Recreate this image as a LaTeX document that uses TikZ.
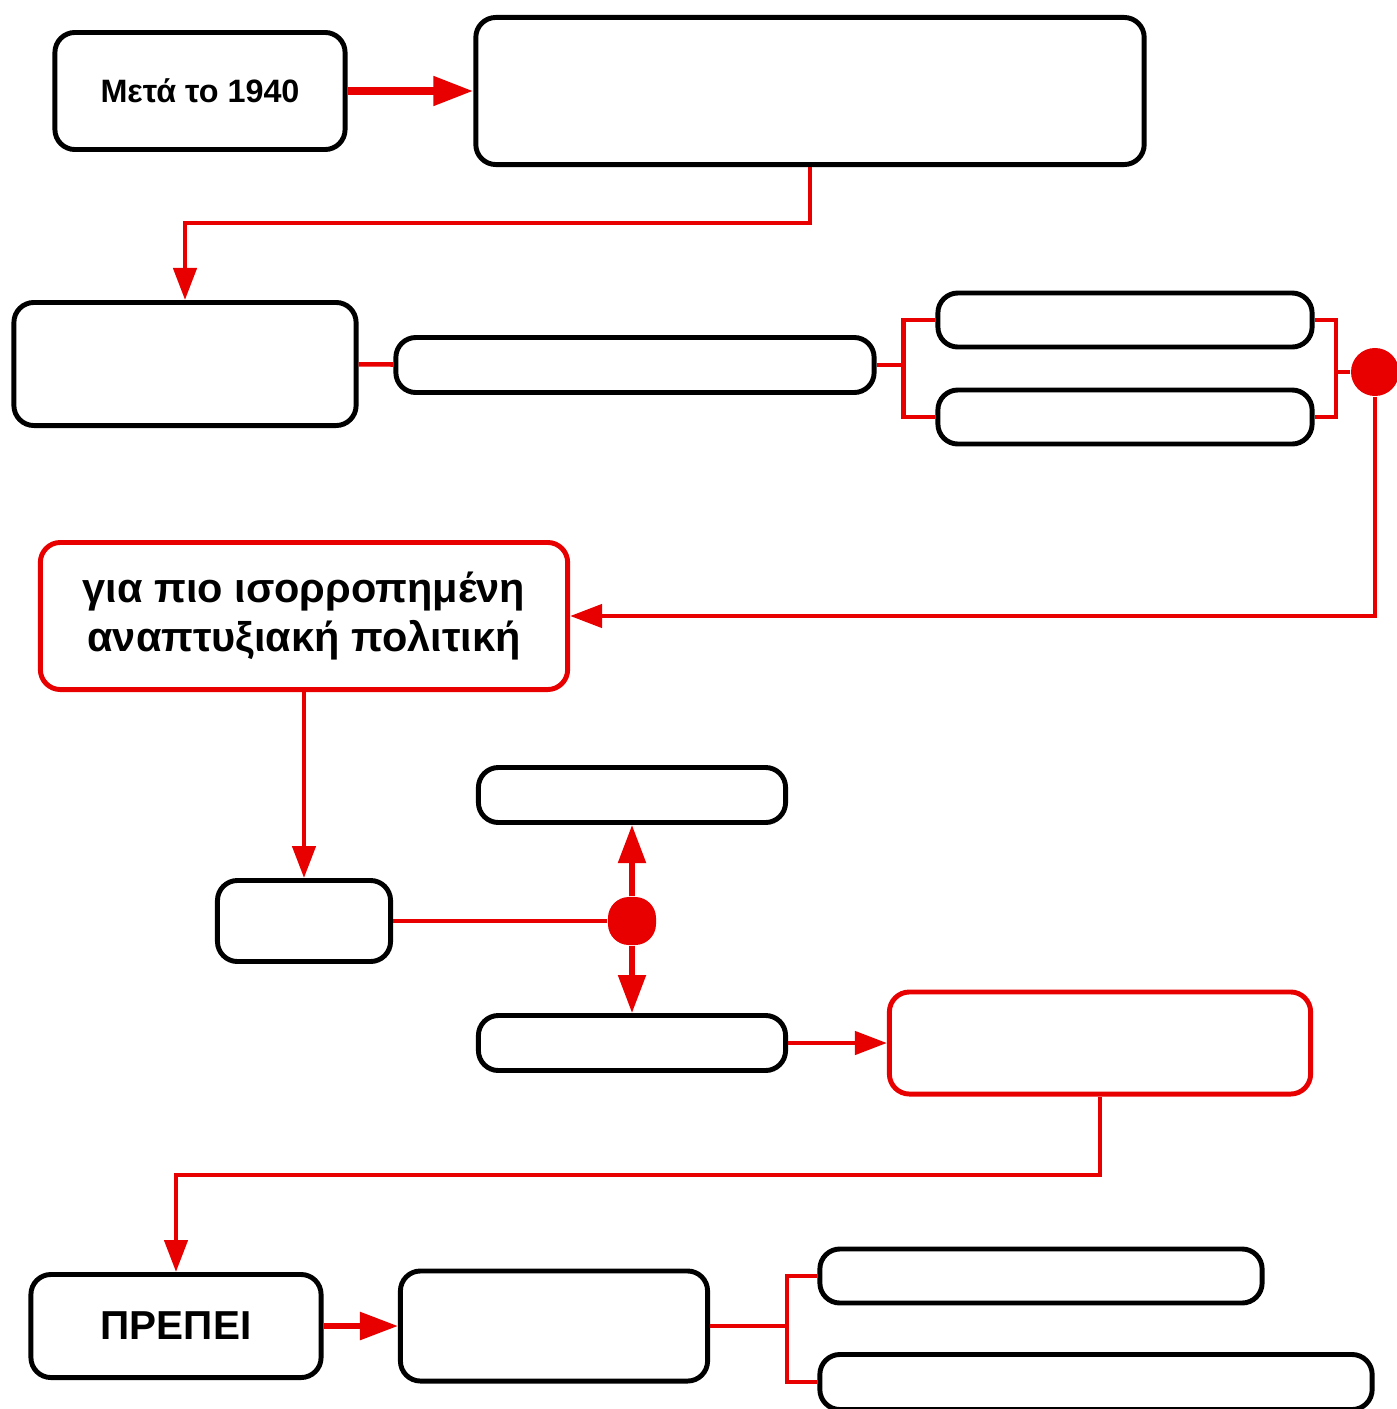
\documentclass[tikz,border=0pt]{standalone}
\usepackage{fontspec}
\setmainfont{Liberation Sans}
\usetikzlibrary{arrows.meta}
\definecolor{myred}{RGB}{232,0,0}
\begin{document}
\begin{tikzpicture}[x=0.01cm,y=-0.01cm,font=\bfseries,
	box/.style={draw=black,line width=1.4pt,rounded corners=0.2cm,fill=white,align=center,inner sep=0pt},
	redbox/.style={box,draw=myred},
	link/.style={draw=myred,line width=1.3pt},
	arr/.style={link,-{Triangle[length=0.32cm,width=0.23cm]}},
	bigarr/.style={draw=myred,line width=2.2pt,-{Triangle[length=0.4cm,width=0.28cm]}},
	dotarr/.style={draw=myred,line width=1.5pt,-{Triangle[length=0.38cm,width=0.27cm]}},
	dot/.style={fill=myred,rounded corners=0.21cm,minimum size=0.48cm,inner sep=0pt}]
	\useasboundingbox (0,0) rectangle (1397,1409);
	\node[box,minimum width=2.9cm,minimum height=1.17cm,font=\bfseries\fontsize{9.2}{11}\selectfont] (meta) at (200,91) {Μετά το 1940};
	\node[redbox,minimum width=5.27cm,minimum height=1.47cm,font=\bfseries\fontsize{11.8}{14}\selectfont] (policy) at (304,616) {για πιο ισορροπημένη\\αναπτυξιακή πολιτική};
	\node[box,minimum width=2.9cm,minimum height=1.03cm,font=\bfseries\fontsize{11.5}{13}\selectfont] (must) at (176,1326) {ΠΡΕΠΕΙ};
	\node[redbox,minimum width=4.21cm,minimum height=1.02cm] (res) at (1100,1043) {};
	\foreach \n/\x/\y/\w/\h in {top/810/91/6.68/1.47, left/185/364/3.42/1.23, mid/635/365/4.78/0.55,
		ra/1125/320/3.74/0.54, rb/1125/417/3.74/0.54, small/304/921/1.73/0.81,
		up/632/795/3.07/0.55, down/632/1043/3.07/0.55, what/554/1326/3.07/1.10,
		wa/1041/1276/4.42/0.54, wb/1096/1382/5.52/0.55}{
		\node[box,minimum width=\w cm,minimum height=\h cm] (\n) at (\x,\y) {};
	}
	\node[dot,circle] (d1) at (1375,372) {};
	\node[dot] (d2) at (632,921) {};
	% connectors
	\draw[bigarr] (meta) -- (top);
	\draw[arr] (top.south) -- (top.south |- 0,223) -| (left.north);
	\draw[link] (left) -- (mid);
	\draw[link] (mid.east) -- ++(27,0) coordinate (bl);
	\draw[link] (ra.west) -| (bl) |- (rb.west);
	\coordinate (br) at (1336,372);
	\draw[link] (ra.east) -| (br) |- (rb.east) (br) -- (d1);
	\draw[arr] (d1) |- (policy.east);
	\draw[arr] (policy) -- (small);
	\draw[link] (small) -- (d2);
	\draw[dotarr] (d2) -- (up);
	\draw[dotarr] (d2) -- (down);
	\draw[arr] (down) -- (res);
	\draw[arr] (res.south) -- (res.south |- 0,1175) -| (must.north);
	\draw[dotarr,line width=1.6pt] (must) -- (what);
	\draw[link] (what.east) -- ++(77,0) coordinate (bw);
	\draw[link] (wa.west) -| (bw) |- (wb.west);
\end{tikzpicture}
\end{document}
